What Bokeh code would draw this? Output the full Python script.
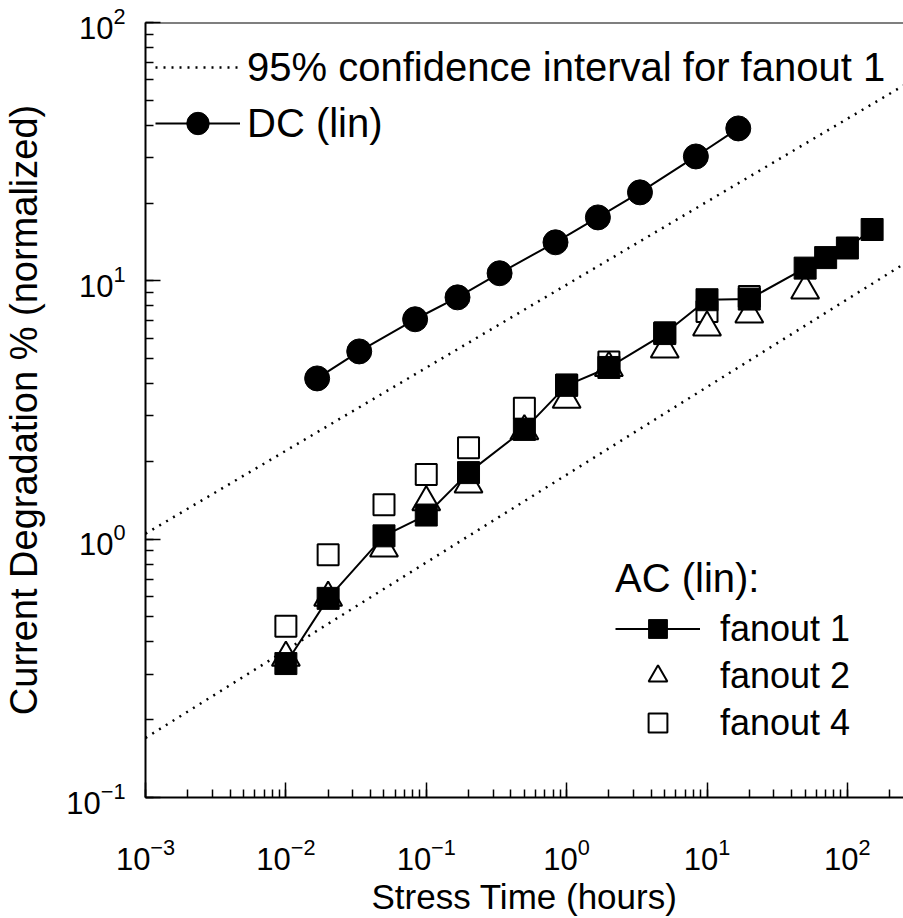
from bokeh.plotting import figure
from bokeh.models import Legend, LegendItem, Span
from bokeh.embed import file_html
from bokeh.resources import INLINE

# ---- data ----
dc_time = [0.0167, 0.0333, 0.0833, 0.167, 0.333, 0.833, 1.67, 3.33, 8.33, 16.7]
dc_deg = [4.19, 5.33, 7.10, 8.63, 10.7, 14.1, 17.6, 22.0, 30.3, 38.9]

f1_time = [0.01, 0.02, 0.05, 0.1, 0.2, 0.5, 1, 2, 5, 10, 20, 50, 70, 100, 150]
f1_deg = [0.33, 0.59, 1.03, 1.24, 1.81, 2.66, 3.94, 4.62, 6.25, 8.45, 8.5, 11.2, 12.3, 13.4, 15.8]

f2_time = [0.01, 0.02, 0.05, 0.1, 0.2, 0.5, 1, 2, 5, 10, 20, 50]
f2_deg = [0.348, 0.594, 0.92, 1.39, 1.63, 2.62, 3.47, 4.6, 5.43, 6.6, 7.41, 9.18]

f4_time = [0.01, 0.02, 0.05, 0.1, 0.2, 0.5, 1, 2, 5, 10, 20]
f4_deg = [0.46, 0.87, 1.36, 1.78, 2.26, 3.21, 3.95, 4.85, 6.3, 7.6, 8.7]

ci_time = [0.001, 251]
ci_upper = [1.05, 57]
ci_lower = [0.17, 11.6]

x_range = (0.001, 251)
y_range = (0.1, 100)

FONT = "Liberation Sans"

p = figure(width=903, height=918, x_axis_type="log", y_axis_type="log",
           x_range=x_range, y_range=y_range, output_backend="svg",
           toolbar_location=None, min_border_left=143, min_border_right=0,
           min_border_top=22, min_border_bottom=121)
p.grid.visible = False
p.outline_line_color = None
p.background_fill_color = "white"
p.border_fill_color = "white"

# confidence interval lines
ci_u = p.line(ci_time, ci_upper, line_color="black", line_width=2.5, line_dash="2 6")
ci_l = p.line(ci_time, ci_lower, line_color="black", line_width=2.5, line_dash="2 6")

# DC
dc_line = p.line(dc_time, dc_deg, line_color="black", line_width=2)
dc_pts = p.scatter(dc_time, dc_deg, marker="circle", size=25, fill_color="black", line_color="black")

# AC fanouts
f4_pts = p.scatter(f4_time, f4_deg, marker="square", size=21, fill_color="white",
                   line_color="black", line_width=2)
f2_pts = p.scatter(f2_time, f2_deg, marker="triangle", size=28, fill_color="white",
                   line_color="black", line_width=2)
f1_line = p.line(f1_time, f1_deg, line_color="black", line_width=2)
f1_pts = p.scatter(f1_time, f1_deg, marker="square", size=22, fill_color="black", line_color="black")

# top border
p.add_layout(Span(location=100, dimension="width", line_color="black", line_width=2))

# axes
for ax in (p.xaxis[0], p.yaxis[0]):
    ax.axis_line_width = 2
    ax.major_tick_line_width = 1.5
    ax.minor_tick_line_width = 1.5
    ax.major_tick_in = 15
    ax.major_tick_out = 0
    ax.minor_tick_in = 8
    ax.minor_tick_out = 0
    ax.major_label_text_font = FONT
    ax.major_label_text_font_size = "31px"
    ax.major_label_text_color = "black"
    ax.axis_label_text_font = FONT
    ax.axis_label_text_font_style = "normal"
    ax.axis_label_text_color = "black"

p.xaxis.axis_label = "Stress Time (hours)"
p.yaxis.axis_label = "Current Degradation % (normalized)"
p.xaxis.axis_label_text_font_size = "35px"
p.yaxis.axis_label_text_font_size = "38px"
p.xaxis.major_label_standoff = 40
p.xaxis.axis_label_standoff = 4
p.yaxis.major_label_standoff = 20
p.yaxis.axis_label_standoff = 18

# legends
leg1 = Legend(items=[LegendItem(label="95% confidence interval for fanout 1", renderers=[ci_u]),
                     LegendItem(label="DC (lin)", renderers=[dc_line, dc_pts])],
              location=(10, 646), padding=0, margin=0, spacing=0,
              glyph_width=85, glyph_height=56, label_height=56, label_standoff=7,
              label_text_font=FONT, label_text_font_size="40px", label_text_color="black",
              border_line_color=None, background_fill_alpha=0)
leg2 = Legend(items=[LegendItem(label="fanout 1", renderers=[f1_line, f1_pts]),
                     LegendItem(label="fanout 2", renderers=[f2_pts]),
                     LegendItem(label="fanout 4", renderers=[f4_pts])],
              title="AC (lin):", title_text_font=FONT, title_text_font_size="40px",
              title_text_font_style="normal", title_text_color="black", title_standoff=4,
              location=(470, 51), padding=0, margin=0, spacing=0,
              glyph_width=85, glyph_height=47, label_height=47, label_standoff=20,
              label_text_font=FONT, label_text_font_size="36px", label_text_color="black",
              border_line_color=None, background_fill_alpha=0)
p.add_layout(leg1)
p.add_layout(leg2)

open("out.html", "w").write(file_html(p, INLINE))
